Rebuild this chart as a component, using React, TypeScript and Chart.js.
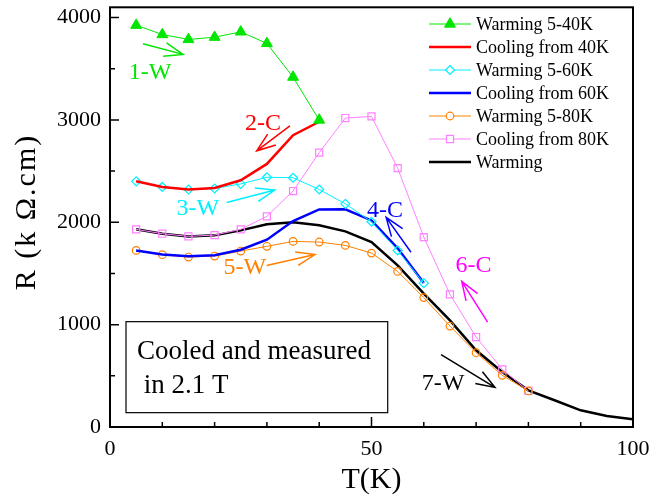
import { useEffect, useRef } from "react"
import Chart from "chart.js/auto"

// temperatures (K)
const temps40 = [5, 10, 15, 20, 25, 30, 35, 40]
const temps60 = [5, 10, 15, 20, 25, 30, 35, 40, 45, 50, 55, 60]
const temps80 = [5, 10, 15, 20, 25, 30, 35, 40, 45, 50, 55, 60, 65, 70, 75, 80]
const temps100 = [5, 10, 15, 20, 25, 30, 35, 40, 45, 50, 55, 60, 65, 70, 75, 80, 85, 90, 95, 100]

// resistance (k ohm.cm)
const warming40 = [3925, 3834, 3786, 3808, 3860, 3747, 3418, 2999]
const cooling40 = [2400, 2345, 2320, 2335, 2410, 2570, 2850, 2982]
const warming60 = [2400, 2345, 2320, 2330, 2375, 2440, 2435, 2320, 2180, 2005, 1725, 1405]
const cooling60 = [1725, 1685, 1668, 1678, 1732, 1830, 2012, 2125, 2126, 2018, 1745, 1406]
const warming80 = [1725, 1683, 1660, 1670, 1719, 1765, 1813, 1807, 1774, 1699, 1520, 1264, 986, 726, 505, 352]
const cooling80 = [1931, 1888, 1862, 1875, 1931, 2058, 2305, 2680, 3018, 3034, 2529, 1855, 1296, 879, 563, 352]
const warmingAll = [1931, 1888, 1862, 1872, 1921, 1980, 1999, 1970, 1911, 1807, 1579, 1302, 1042, 749, 537, 358, 261, 163, 108, 75]

const xTicks = [0, 10, 20, 30, 40, 50, 60, 70, 80, 90, 100]
const yTicks = [0, 500, 1000, 1500, 2000, 2500, 3000, 3500, 4000]
const xTickLabels = [0, 50, 100]
const yTickLabels = [0, 1000, 2000, 3000, 4000]

const GREEN = "#00e600"
const RED = "#ff0000"
const CYAN = "#00f0ff"
const BLUE = "#0000ff"
const ORANGE = "#ff8000"
const PINK = "#ff80ff"
const MAGENTA = "#ff00ff"

const SERIF = "'Liberation Serif', 'DejaVu Serif', serif"

// annotation labels and arrows, in data units (T, R)
const notes = [
  { text: "1-W", color: GREEN, at: [7.65, 3457], from: [6.3, 3743], to: [13.96, 3640] },
  { text: "2-C", color: RED, at: [29.25, 2961], from: [34.4, 2941], to: [28.05, 2698] },
  { text: "3-W", color: CYAN, at: [16.8, 2130], from: [22.3, 2194], to: [31.5, 2315] },
  { text: "4-C", color: BLUE, at: [52.6, 2113], from: [57.55, 1707], to: [52.8, 2048] },
  { text: "5-W", color: ORANGE, at: [25.8, 1555], from: [29.96, 1578], to: [39.2, 1685] },
  { text: "6-C", color: MAGENTA, at: [69.5, 1578], from: [72.2, 1025], to: [67.25, 1422] },
  { text: "7-W", color: "#000", at: [63.7, 426], from: [63.3, 708], to: [73.6, 387] },
]

const boxNote = {
  lines: ["Cooled and measured", " in 2.1 T"],
  corner1: [3.06, 1029],
  corner2: [53.1, 140],
  lineAt: [[5.16, 730], [5.16, 406]],
}

const pts = (xs: number[], ys: number[]) => xs.map((x, i) => ({ x, y: ys[i] }))

function drawMarker(ctx: CanvasRenderingContext2D, style: string, x: number, y: number, r: number) {
  ctx.beginPath()
  if (style === "triangle") {
    for (let k = 0; k < 3; k++) {
      const a = (k * 2 * Math.PI) / 3
      const px = x + Math.sin(a) * r
      const py = y - Math.cos(a) * r
      if (k === 0) ctx.moveTo(px, py)
      else ctx.lineTo(px, py)
    }
    ctx.closePath()
  } else if (style === "rectRot") {
    ctx.moveTo(x, y - r)
    ctx.lineTo(x + r, y)
    ctx.lineTo(x, y + r)
    ctx.lineTo(x - r, y)
    ctx.closePath()
  } else if (style === "rect") {
    const s = r * Math.SQRT1_2
    ctx.rect(x - s, y - s, 2 * s, 2 * s)
  } else {
    ctx.arc(x, y, r, 0, Math.PI * 2)
  }
}

function arrow(ctx: CanvasRenderingContext2D, x1: number, y1: number, x2: number, y2: number) {
  const ang = Math.atan2(y2 - y1, x2 - x1)
  const head = 20
  const spread = (20 * Math.PI) / 180
  ctx.beginPath()
  ctx.moveTo(x1, y1)
  ctx.lineTo(x2, y2)
  ctx.moveTo(x2 - head * Math.cos(ang - spread), y2 - head * Math.sin(ang - spread))
  ctx.lineTo(x2, y2)
  ctx.lineTo(x2 - head * Math.cos(ang + spread), y2 - head * Math.sin(ang + spread))
  ctx.stroke()
}

const decor = {
  id: "decor",
  afterDraw(chart: any) {
    const { ctx, chartArea: a, scales } = chart
    const sx = scales.x
    const sy = scales.y
    const X = (v: number) => sx.getPixelForValue(v)
    const Y = (v: number) => sy.getPixelForValue(v)
    ctx.save()

    // frame
    ctx.strokeStyle = "#000"
    ctx.lineWidth = 2
    ctx.strokeRect(a.left, a.top, a.right - a.left, a.bottom - a.top)

    // inward ticks
    ctx.lineWidth = 1.5
    ctx.beginPath()
    xTicks.forEach((v) => {
      const len = xTickLabels.includes(v) ? 10 : 5
      ctx.moveTo(X(v), a.bottom)
      ctx.lineTo(X(v), a.bottom - len)
    })
    yTicks.forEach((v) => {
      const len = yTickLabels.includes(v) ? 9 : 5
      ctx.moveTo(a.left, Y(v))
      ctx.lineTo(a.left + len, Y(v))
    })
    ctx.stroke()

    // axis titles
    ctx.fillStyle = "#000"
    ctx.textAlign = "center"
    ctx.textBaseline = "middle"
    ctx.font = `30px ${SERIF}`
    ctx.fillText("T(K)", (a.left + a.right) / 2, 480)
    ctx.save()
    ctx.translate(27, 212)
    ctx.rotate(-Math.PI / 2)
    ;(ctx as any).letterSpacing = "2px"
    ctx.fillText("R (k \u03A9.cm)", 0, 0)
    ctx.restore()

    // legend
    ctx.font = `18px ${SERIF}`
    ctx.textAlign = "left"
    chart.data.datasets.forEach((ds: any, i: number) => {
      const yy = 24 + i * 23
      ctx.strokeStyle = ds.borderColor
      ctx.lineWidth = ds.borderWidth
      ctx.beginPath()
      ctx.moveTo(429, yy)
      ctx.lineTo(471, yy)
      ctx.stroke()
      if (ds.pointRadius > 0) {
        drawMarker(ctx, ds.pointStyle, 450, yy, ds.pointRadius)
        ctx.fillStyle = "#fff"
        ctx.fill()
        if (ds.pointBackgroundColor !== "rgba(0,0,0,0)") {
          ctx.fillStyle = ds.pointBackgroundColor
          ctx.fill()
        }
        ctx.lineWidth = ds.pointBorderWidth
        ctx.strokeStyle = ds.borderColor
        ctx.stroke()
      }
      ctx.fillStyle = "#000"
      ctx.fillText(ds.label, 476, yy + 1)
    })

    // labels with arrows
    ctx.textAlign = "center"
    ctx.font = `24px ${SERIF}`
    notes.forEach((n) => {
      ctx.fillStyle = n.color
      ctx.strokeStyle = n.color
      ctx.lineWidth = 1.5
      ctx.fillText(n.text, X(n.at[0]), Y(n.at[1]))
      arrow(ctx, X(n.from[0]), Y(n.from[1]), X(n.to[0]), Y(n.to[1]))
    })

    // text box
    ctx.strokeStyle = "#000"
    ctx.lineWidth = 1.2
    const bx = X(boxNote.corner1[0])
    const by = Y(boxNote.corner1[1])
    ctx.strokeRect(bx, by, X(boxNote.corner2[0]) - bx, Y(boxNote.corner2[1]) - by)
    ctx.fillStyle = "#000"
    ctx.textAlign = "left"
    ctx.font = `27px ${SERIF}`
    boxNote.lines.forEach((t, i) => {
      ctx.fillText(t, X(boxNote.lineAt[i][0]), Y(boxNote.lineAt[i][1]))
    })

    ctx.restore()
  },
}

export default function App() {
  const chartRef = useRef<HTMLCanvasElement>(null)
  const chartInstance = useRef<Chart | null>(null)

  useEffect(() => {
    if (!chartRef.current) return
    if (chartInstance.current) chartInstance.current.destroy()

    const hollow = "rgba(0,0,0,0)"
    const tickFont = { family: SERIF, size: 22 }

    chartInstance.current = new Chart(chartRef.current, {
      type: "line",
      data: {
        datasets: [
          {
            label: "Warming 5-40K",
            data: pts(temps40, warming40),
            borderColor: GREEN,
            borderWidth: 1,
            pointStyle: "triangle",
            pointRadius: 6.3,
            pointBackgroundColor: GREEN,
            pointBorderColor: GREEN,
            pointBorderWidth: 1,
          },
          {
            label: "Cooling from 40K",
            data: pts(temps40, cooling40),
            borderColor: RED,
            borderWidth: 2.5,
            pointRadius: 0,
          },
          {
            label: "Warming 5-60K",
            data: pts(temps60, warming60),
            borderColor: CYAN,
            borderWidth: 1,
            pointStyle: "rectRot",
            pointRadius: 4.5,
            pointBackgroundColor: hollow,
            pointBorderColor: CYAN,
            pointBorderWidth: 1.2,
          },
          {
            label: "Cooling from 60K",
            data: pts(temps60, cooling60),
            borderColor: BLUE,
            borderWidth: 2.5,
            pointRadius: 0,
          },
          {
            label: "Warming 5-80K",
            data: pts(temps80, warming80),
            borderColor: ORANGE,
            borderWidth: 1,
            pointStyle: "circle",
            pointRadius: 3.8,
            pointBackgroundColor: hollow,
            pointBorderColor: ORANGE,
            pointBorderWidth: 1.2,
          },
          {
            label: "Cooling from 80K",
            data: pts(temps80, cooling80),
            borderColor: PINK,
            borderWidth: 1,
            pointStyle: "rect",
            pointRadius: 5,
            pointBackgroundColor: hollow,
            pointBorderColor: PINK,
            pointBorderWidth: 1.2,
          },
          {
            label: "Warming",
            data: pts(temps100, warmingAll),
            borderColor: "#000",
            borderWidth: 2.5,
            pointRadius: 0,
          },
        ],
      },
      options: {
        animation: false,
        responsive: false,
        devicePixelRatio: 1,
        layout: { padding: { top: 6, right: 33, left: 0, bottom: 0 } },
        plugins: {
          legend: { display: false },
          tooltip: { enabled: false },
        },
        elements: { line: { tension: 0 } },
        scales: {
          x: {
            type: "linear",
            min: 0,
            max: 100,
            grid: { display: false },
            border: { display: false },
            afterBuildTicks: (s: any) => {
              s.ticks = xTickLabels.map((v) => ({ value: v }))
            },
            ticks: {
              autoSkip: false,
              maxRotation: 0,
              padding: 1,
              color: "#000",
              font: tickFont,
              callback: (v: any) => String(v),
            },
            afterFit: (s: any) => {
              s.height = 70
              s.paddingLeft = 0
              s.paddingRight = 0
            },
          },
          y: {
            type: "linear",
            min: 0,
            max: 4100,
            grid: { display: false },
            border: { display: false },
            afterBuildTicks: (s: any) => {
              s.ticks = yTickLabels.map((v) => ({ value: v }))
            },
            ticks: {
              autoSkip: false,
              padding: 1,
              color: "#000",
              font: tickFont,
              callback: (v: any) => String(v),
            },
            afterFit: (s: any) => {
              s.width = 110
              s.paddingTop = 0
              s.paddingBottom = 0
            },
          },
        },
      },
      plugins: [decor],
    })

    return () => {
      if (chartInstance.current) {
        chartInstance.current.destroy()
        chartInstance.current = null
      }
    }
  }, [])

  return (
    <div style={{ position: "absolute", left: 0, top: 0, width: 666, height: 497, background: "#fff" }}>
      <canvas ref={chartRef} width={666} height={497} style={{ display: "block" }} />
    </div>
  )
}
